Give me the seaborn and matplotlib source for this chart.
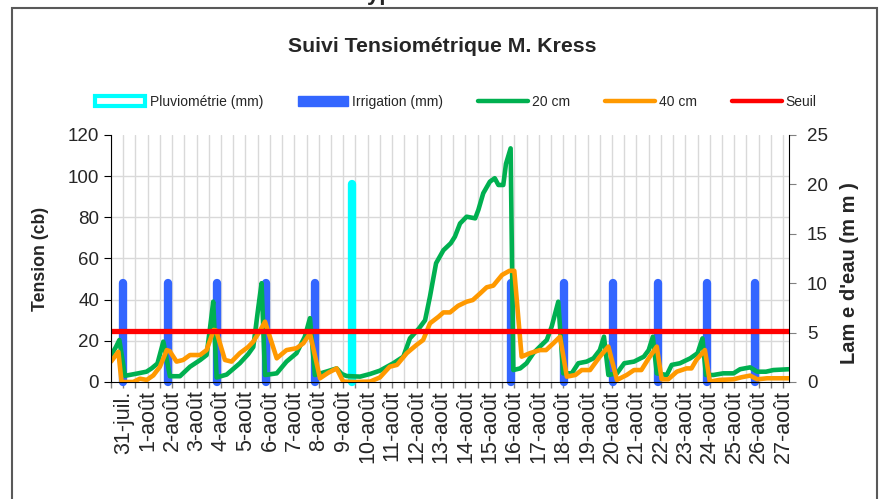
import numpy as np
import seaborn as sns
import matplotlib.pyplot as plt
from matplotlib.patches import Patch, Rectangle
from matplotlib.lines import Line2D

# time axis in days counted from 31-juil.
day_labels = ['31-juil.'] + ['%d-août' % d for d in range(1, 28)]

# tension 20 cm (cb)
t20 = [-0.5, -0.3, -0.16, 0.07, 0.48, 0.95, 1.16, 1.4, 1.64, 1.91, 2.32, 2.73, 3.15, 3.41,
       3.59, 3.68, 3.82, 4.23, 4.77, 5.11, 5.32, 5.53, 5.66, 5.8, 6.28, 6.68, 7.09, 7.43,
       7.64, 7.84, 8.3, 8.73, 8.94, 9.14, 9.69, 10.1, 10.5, 11.05, 11.46, 11.73, 12.1,
       12.35, 12.55, 12.8, 13.1, 13.4, 13.57, 13.78, 14.05, 14.4, 14.53, 14.73, 15.0,
       15.2, 15.35, 15.55, 15.66, 15.85, 15.96, 16.24, 16.5, 16.78, 17.05, 17.33, 17.53,
       17.8, 18.0, 18.35, 18.62, 18.96, 19.24, 19.5, 19.67, 19.85, 20.2, 20.5, 20.9,
       21.3, 21.5, 21.67, 21.83, 22.24, 22.44, 22.78, 23.2, 23.5, 23.7, 23.84, 24.15,
       24.55, 24.97, 25.24, 25.65, 25.94, 26.3, 26.6, 27.24]
h20 = [13, 17, 20.4, 3, 3.9, 5, 6.6, 9, 19.6, 2.8, 2.8, 7.4, 10.7, 13.1,
       30, 39, 2.2, 3.6, 9.1, 13.5, 17, 36.6, 48, 3.4, 4.2, 9.9, 14, 22,
       31, 3.4, 5, 6.6, 3.9, 2.9, 2.6, 3.9, 5.5, 9.1, 12.3, 21.2, 26,
       30, 41.5, 57.7, 64, 67.4, 70.6, 77, 80.3, 79.5, 83.6, 91.7, 97.3,
       99, 95.7, 95.7, 106, 113.5, 5.8, 6.6, 9.1, 14, 17.2, 20.4, 26.9,
       39, 4.2, 4.2, 9.1, 9.9, 11.5, 15.5, 22, 3.4, 4.2, 9.1, 9.9,
       12.3, 15.5, 22, 4.2, 3.4, 8.3, 9.1, 11.5, 14, 21.2, 3.4, 3.4,
       4.2, 4.2, 6.2, 7.1, 5, 5, 5.8, 6.2]

# tension 40 cm (cb)
t40 = [-0.5, -0.2, -0.07, 0.41, 0.68, 0.96, 1.23, 1.5, 1.78, 1.9, 2.18, 2.45, 2.73, 3.14,
       3.41, 3.7, 3.8, 4.16, 4.43, 4.77, 5.11, 5.32, 5.6, 5.8, 6.28, 6.68, 7.09, 7.37,
       7.64, 8.05, 8.39, 8.73, 9.0, 9.5, 10.1, 10.5, 10.9, 11.2, 11.6, 12.0, 12.27,
       12.55, 12.9, 13.1, 13.37, 13.7, 14.05, 14.3, 14.6, 14.87, 15.14, 15.5, 15.8, 16.0,
       16.3, 16.64, 17.05, 17.3, 17.6, 17.87, 18.15, 18.5, 18.76, 19.1, 19.5, 19.85,
       20.2, 20.6, 20.9, 21.2, 21.5, 21.83, 22.03, 22.3, 22.65, 23.05, 23.25, 23.45,
       23.8, 24.0, 24.4, 24.97, 25.3, 25.65, 25.94, 26.35, 27.24]
h40 = [9.9, 14.7, 0, 0, 1.6, 1.0, 3.2, 7.4, 15.5, 15, 9.9, 10.7, 13.1, 13.1,
       15.5, 25.3, 25, 10.7, 9.9, 14, 17, 19.6, 25, 29.3, 11.5, 15.5, 16.4, 18.8,
       23.6, 1.8, 4.5, 6.6, 0.2, 0, 0.2, 2.2, 7.4, 8.3, 14, 18, 20.4,
       28.5, 31.7, 33.8, 33.8, 37, 39, 39.8, 43, 46, 46.8, 52, 54, 54,
       12.3, 14, 15.5, 15.5, 18.8, 22, 2.6, 3.4, 5.8, 5.8, 12.3, 17.2,
       1, 3.4, 5.8, 5.8, 11.5, 17.2, 1.3, 1.3, 5, 6.6, 6.6, 10.7,
       15.5, 0.2, 1, 1.3, 2.3, 3.1, 1.3, 1.8, 1.8]

# water supply (mm)
irrig_days = [0, 1.83, 3.85, 5.86, 7.85, 15.86, 18.03, 20.03, 21.86, 23.87, 25.86]
irrig_mm = [10] * len(irrig_days)
pluvio_days = [9.36]
pluvio_mm = [20]

seuil = 25

GREEN = '#00B050'
ORANGE = '#FF9900'
RED = '#FF0000'
BLUE = '#3366FF'
CYAN = '#00FFFF'

sns.set_style('white')
plt.rcParams['font.family'] = ['Liberation Sans', 'DejaVu Sans']

fig = plt.figure(figsize=(8.89, 4.99), dpi=100)
axb = fig.add_axes([0.1249, 0.2345, 0.7626, 0.495])
axl = axb.twinx()

# bars (right axis, background)
axb.vlines(irrig_days, 0, irrig_mm, colors=BLUE, lw=6, capstyle='round', clip_on=False)
axb.vlines(pluvio_days, 0, pluvio_mm, colors=CYAN, lw=6, capstyle='round', clip_on=False)

# tension lines (left axis, on top)
sns.lineplot(x=t20, y=h20, ax=axl, color=GREEN, lw=3.3, sort=False, errorbar=None)
sns.lineplot(x=t40, y=h40, ax=axl, color=ORANGE, lw=3.3, sort=False, errorbar=None)
axl.axhline(seuil, color=RED, lw=3.8)

# x axis
xt = np.arange(-0.5, 27.01, 0.5)
axb.set_xticks(xt)
axb.set_xticklabels([day_labels[int(v)] if v == int(v) else '' for v in xt])
axb.set_xlim(-0.5, 27.24)
axb.tick_params(axis='x', direction='out', length=4, width=1, color='#808080',
                labelrotation=90, labelsize=15.5, pad=2, bottom=True)

# right axis
axb.set_ylim(0, 25)
axb.set_yticks(range(0, 26, 5))
axb.set_yticks(np.arange(0, 121, 20) * 25 / 120, minor=True)
axb.yaxis.tick_right()
axb.yaxis.set_label_position('right')
axb.tick_params(axis='y', which='major', direction='out', length=5, color='#808080',
                labelsize=13.5, right=True, left=False, pad=8)
axb.tick_params(axis='y', which='minor', length=0)
axb.set_axisbelow(True)
axb.xaxis.grid(True, color='#d9d9d9', lw=1)
axb.yaxis.grid(True, which='minor', color='#d9d9d9', lw=1)
axb.yaxis.grid(False, which='major')
axb.set_ylabel("Lam e d'eau (m m )", fontsize=14.5, fontweight='bold')
axb.yaxis.set_label_coords(1.075, 0.44)

# left axis
axl.yaxis.tick_left()
axl.yaxis.set_label_position('left')
axl.set_ylim(0, 120)
axl.set_yticks(range(0, 121, 20))
axl.tick_params(axis='y', direction='out', length=5, color='#000000',
                labelsize=13.5, left=True, right=False)
axl.set_ylabel('Tension (cb)', fontsize=12.7, fontweight='bold')
axl.yaxis.set_label_coords(-0.0914, 0.5)
axl.grid(False)

for s in ['top', 'left']:
    axb.spines[s].set_visible(False)
for s in ['top', 'right', 'bottom']:
    axl.spines[s].set_visible(False)
axb.spines['bottom'].set_color('black')
axb.spines['right'].set_color('black')
axl.spines['left'].set_color('black')

# legend
handles = [Patch(facecolor='white', edgecolor=CYAN, lw=3),
           Patch(facecolor=BLUE, edgecolor=BLUE),
           Line2D([], [], color=GREEN, lw=3.2),
           Line2D([], [], color=ORANGE, lw=3.2),
           Line2D([], [], color=RED, lw=3.2)]
labels = ['Pluviométrie (mm)', 'Irrigation (mm)', '20 cm', '40 cm', 'Seuil']
fig.legend(handles, labels, loc='center', bbox_to_anchor=(0.513, 0.796), ncol=5,
           frameon=False, fontsize=10, handlelength=3.6, handletextpad=0.3,
           columnspacing=2.5)

fig.text(0.498, 0.907, 'Suivi Tensiométrique M. Kress', ha='center', va='center',
         fontsize=15.3, fontweight='bold')
fig.text(356 / 889, 1.0, 'Type', ha='left', va='baseline', fontsize=16, fontweight='bold')

fig.add_artist(Rectangle((12 / 889, -0.02), 865 / 889, 1.02 - 8 / 499,
                         transform=fig.transFigure, fill=False, edgecolor='#595959', lw=1.5))

fig.savefig('out.png', dpi=100)
